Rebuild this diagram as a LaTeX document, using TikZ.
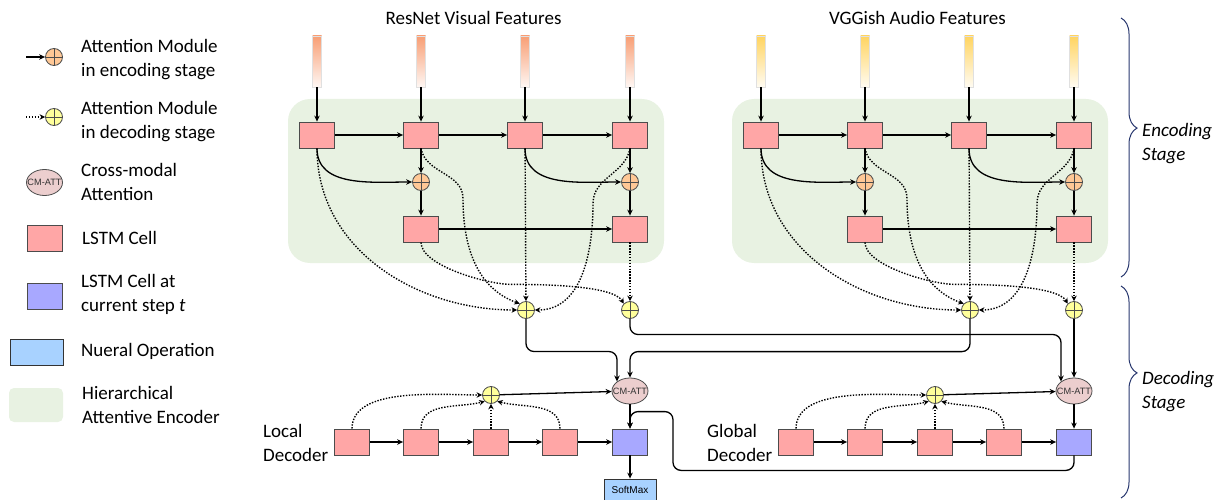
\documentclass[tikz,border=0pt]{standalone}
\usepackage{fontspec}
\setmainfont{Carlito}
\newfontfamily\opfont{Liberation Sans}
\usetikzlibrary{arrows.meta,positioning,shapes.geometric,calc,decorations.pathreplacing}

\definecolor{cellred}{RGB}{255,166,166}
\definecolor{nowblue}{RGB}{168,168,255}
\definecolor{opblue}{RGB}{168,210,255}
\definecolor{encbg}{RGB}{232,242,226}
\definecolor{encatt}{RGB}{255,200,150}
\definecolor{decatt}{RGB}{255,255,155}
\definecolor{cmatt}{RGB}{236,206,206}
\definecolor{stagenavy}{RGB}{40,55,110}
\definecolor{visfeat}{RGB}{248,158,116}
\definecolor{audfeat}{RGB}{255,212,96}

\tikzset{
  cell/.style={draw=black!70, fill=cellred, line width=0.8pt, minimum width=35pt, minimum height=26pt, inner sep=0pt},
  cellnow/.style={cell, fill=nowblue},
  attn/.style={circle, draw=black!70, line width=0.8pt, minimum size=17pt, inner sep=0pt,
    path picture={\draw[black!70, line width=0.8pt] (path picture bounding box.north) -- (path picture bounding box.south)
      (path picture bounding box.west) -- (path picture bounding box.east);}},
  encattn/.style={attn, fill=encatt},
  decattn/.style={attn, fill=decatt},
  cmnode/.style={ellipse, draw=black!70, line width=0.8pt, fill=cmatt, minimum width=36pt, minimum height=26pt,
    inner sep=0pt, font=\opfont\fontsize{9.2}{10}\selectfont, text=black!80},
  feat/.style={draw=black!12, line width=0.6pt, minimum width=9pt, minimum height=51pt, inner sep=0pt},
  opbox/.style={draw=black!80, line width=0.8pt, fill=opblue, minimum width=52pt, minimum height=22pt,
    inner sep=0pt, font=\opfont\fontsize{10}{12}\selectfont},
  flow/.style={line width=1.3pt, -{Stealth[length=6pt,width=5.5pt]}},
  dotflow/.style={line width=1.4pt, dash pattern=on 1.4pt off 1.5pt, -{Stealth[length=5.5pt,width=5.5pt]}},
  legtext/.style={anchor=west, align=left, inner sep=0pt},
  stagetext/.style={anchor=west, align=left, inner sep=0pt, font=\fontsize{19}{24}\selectfont\itshape},
  stagebrace/.style={draw=stagenavy, line width=1pt, decorate}
}

\begin{document}
\begin{tikzpicture}[x=1pt, y=-1pt, font=\fontsize{19}{24}\selectfont]
  \useasboundingbox (0,0) rectangle (1218,500);

  % Legend
  \coordinate (legin1) at (26,57);
  \node[encattn] (legenc) at (54,57) {};
  \draw[flow] (legin1) -- (legenc);
  \node[legtext] (legenctxt) at (81,60) {Attention Module\\in encoding stage};
  \coordinate (legin2) at (26,117);
  \node[decattn] (legdec) at (54,117) {};
  \draw[dotflow] (legin2) -- (legdec);
  \node[legtext] (legdectxt) at (81,122) {Attention Module\\in decoding stage};
  \node[cmnode] (legcm) at (44.5,182.5) {\makebox[0pt]{CM-ATT}};
  \node[legtext] (legcmtxt) at (81,182) {Cross-modal\\Attention};
  \node[cell] (legcell) at (44.5,238.5) {};
  \node[legtext] (legcelltxt) at (82,238) {LSTM Cell};
  \node[cellnow] (legnow) at (44.5,296) {};
  \node[legtext] (legnowtxt) at (81,294) {LSTM Cell at\\current step \textit{t}};
  \node[opbox, minimum width=53pt, minimum height=26pt] (legop) at (36.5,352) {};
  \node[legtext] (legoptxt) at (81,351) {Nueral Operation};
  \node[fill=encbg, rounded corners=5pt, minimum width=54pt, minimum height=34pt, inner sep=0pt] (legbg) at (36,405) {};
  \node[legtext] (legbgtxt) at (82,405) {Hierarchical\\Attentive Encoder};

  % Encoders: visual, and audio shifted to the right
  \foreach \m/\dx/\fc/\ttl in {v/0/visfeat/ResNet Visual Features, a/444/audfeat/VGGish Audio Features}{
    \begin{scope}[xshift=\dx pt]
      \fill[encbg, rounded corners=22pt] (288,99) rectangle (664,263);
      \node (\m title) at (473.5,18) {\ttl};
      \foreach \i/\xx in {1/317,2/421,3/525,4/630}{
        \node[feat, top color=\fc, bottom color=\fc!8] (\m f\i) at (\xx,61.5) {};
        \node[cell] (\m\i) at (\xx,135) {};
        \draw[flow] (\m f\i) -- (\m\i);
      }
      \node[encattn] (\m e2) at (421,182) {};
      \node[encattn] (\m e4) at (630,182) {};
      \node[cell] (\m h2) at (421,229) {};
      \node[cell] (\m h4) at (630,229) {};
      \node[decattn] (\m d1) at (526,310) {};
      \node[decattn] (\m d2) at (630,310) {};

      % solid links
      \draw[flow] (\m1) -- (\m2);
      \draw[flow] (\m2) -- (\m3);
      \draw[flow] (\m3) -- (\m4);
      \draw[flow] (\m1.south) to[out=-90,in=180] (\m e2);
      \draw[flow] (\m3.south) to[out=-90,in=180] (\m e4);
      \draw[flow] (\m2) -- (\m e2);
      \draw[flow] (\m e2) -- (\m h2);
      \draw[flow] (\m4) -- (\m e4);
      \draw[flow] (\m e4) -- (\m h4);
      \draw[flow] (\m h2) -- (\m h4);

      % dotted links to decoding attention
      \draw[dotflow] (\m1.south) to[out=-90,in=180] (\m d1.west);
      \draw[dotflow] (\m2.south) to[out=-80,in=90] ++(42,50) to[out=-90,in=160] (\m d1.north west);
      \draw[dotflow] (\m3) -- (\m d1);
      \draw[dotflow] (\m4.south) to[out=-100,in=90] ++(-37,55) to[out=-90,in=0] (\m d1.east);
      \draw[dotflow] (\m h2.south) to[out=-90,in=180,looseness=0.6] ++(90,42) to[out=0,in=120,looseness=0.5] (\m d2.north west);
      \draw[dotflow] (\m h4) -- (\m d2);
    \end{scope}
  }

  % Decoders: local, and global shifted to the right
  \foreach \m/\dx/\ttl in {loc/0/Local, glo/444/Global}{
    \begin{scope}[xshift=\dx pt]
      \node[legtext] (\m name) at (263,443) {\ttl\\Decoder};
      \foreach \i/\xx in {1/352,2/421,3/491,4/560}{
        \node[cell] (\m\i) at (\xx,442) {};
      }
      \node[cellnow] (\m now) at (630,442) {};
      \node[decattn] (\m att) at (491,395) {};
      \node[cmnode] (\m cm) at (630,391) {\makebox[0pt]{CM-ATT}};

      \draw[flow] (\m1) -- (\m2);
      \draw[flow] (\m2) -- (\m3);
      \draw[flow] (\m3) -- (\m4);
      \draw[flow] (\m4) -- (\m now);
      \draw[flow] (\m att) -- (\m cm);
      \draw[flow] (\m cm) -- (\m now);
      \draw[dotflow] (\m1.north) to[out=90,in=180,looseness=0.8] (\m att.west);
      \draw[dotflow] (\m2.north) to[out=90,in=195] (\m att.south west);
      \draw[dotflow] (\m3) -- (\m att);
      \draw[dotflow] (\m4.north) to[out=90,in=-15] (\m att.south east);
    \end{scope}
  }

  % Output
  \node[opbox] (softmax) at (630,490) {SoftMax};
  \draw[flow] (locnow) -- (softmax);
  \draw[flow, rounded corners=8pt] (glonow.south) -- ++(0,15) -| ($(locnow.north)+(43,-17)$) -| (locnow.north);

  % Encoders to cross-modal attention
  \draw[flow, rounded corners=8pt] (vd1.south) |- ($(loccm.north west)+(0,-30)$) -- (loccm.north west);
  \draw[flow, rounded corners=8pt] (ad1.south) |- ($(loccm.north)+(0,-26)$) -- (loccm.north);
  \draw[flow, rounded corners=8pt] (vd2.south) |- ($(glocm.north west)+(0,-47)$) -- (glocm.north west);
  \draw[flow] (ad2) -- (glocm);

  % Stage braces
  \draw[stagebrace, decoration={brace, amplitude=16pt, aspect=0.425}] (1121,18) -- (1121,277);
  \node[stagetext] (encstage) at (1142,144) {Encoding\\Stage};
  \draw[stagebrace, decoration={brace, amplitude=16pt, aspect=0.41}] (1121,286) -- (1121,498);
  \node[stagetext] (decstage) at (1142,392) {Decoding\\Stage};
\end{tikzpicture}
\end{document}
